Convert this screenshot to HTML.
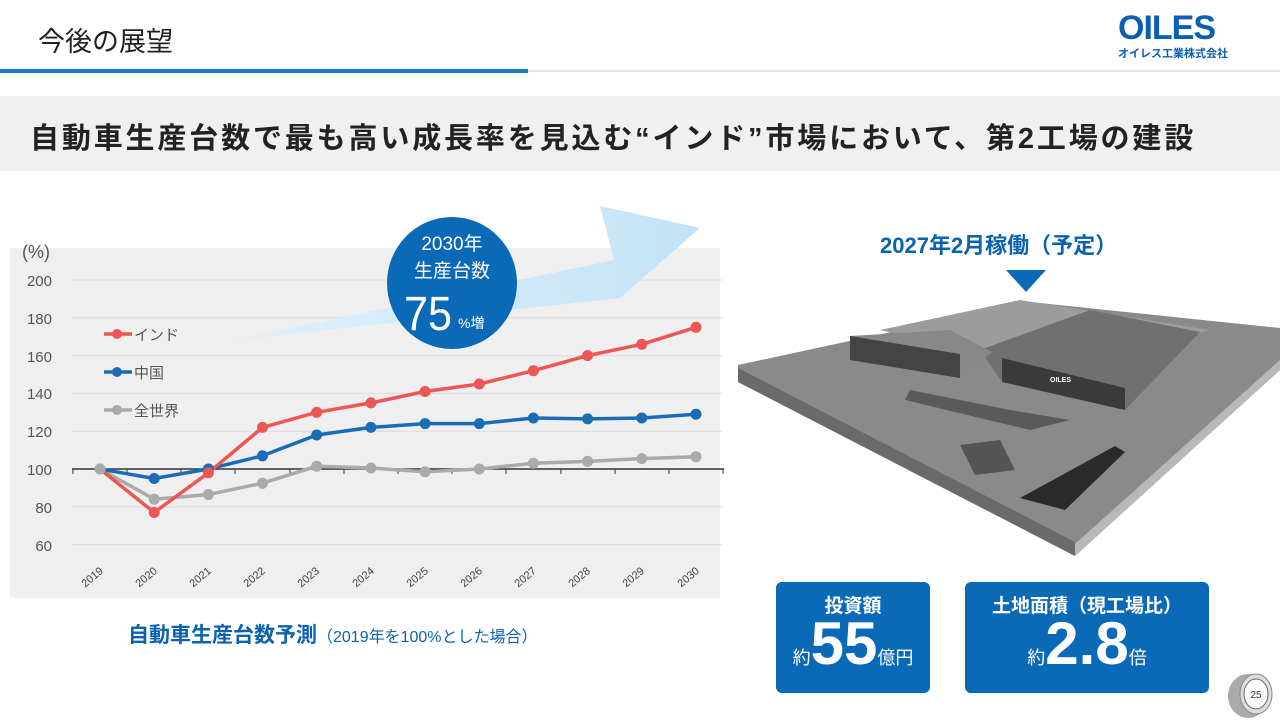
<!DOCTYPE html>
<html><head><meta charset="utf-8"><style>
body{margin:0;width:1280px;height:720px;overflow:hidden;background:#fff;font-family:"Liberation Sans","Noto Sans CJK JP",sans-serif;position:relative}
.a{position:absolute}
</style></head><body>
<div class="a" style="left:38px;top:20px;font-size:27px;color:#222">今後の展望</div>
<div class="a" style="left:0;top:69px;width:528px;height:4px;background:#1f78c1"></div>
<div class="a" style="left:528px;top:70px;width:752px;height:2px;background:#e6e6e6"></div>
<div class="a" style="left:1118px;top:10px;font-size:34px;font-weight:bold;color:#0a5fb0;letter-spacing:-1px;line-height:36px">OILES</div>
<div class="a" style="left:1118px;top:45px;font-size:11px;font-weight:bold;color:#0a5fb0">オイレス工業株式会社</div>
<div class="a" style="left:0;top:96px;width:1280px;height:75px;background:#f0f0f0"></div>
<div class="a" style="left:30px;top:115px;font-size:29px;color:#222;font-weight:bold;letter-spacing:2.85px;white-space:nowrap">自動車生産台数で最も高い成長率を見込む“インド”市場において、第2工場の建設</div>
<svg class="a" style="left:0;top:0" width="730" height="600">
<rect x="10" y="248" width="710" height="350" fill="#efefef"/>
<g stroke="#dcdcdc" stroke-width="1">
<line x1="72" x2="722" y1="280" y2="280"/><line x1="72" x2="722" y1="317.8" y2="317.8"/><line x1="72" x2="722" y1="355.6" y2="355.6"/><line x1="72" x2="722" y1="393.4" y2="393.4"/><line x1="72" x2="722" y1="431.2" y2="431.2"/><line x1="72" x2="722" y1="506.8" y2="506.8"/><line x1="72" x2="722" y1="544.6" y2="544.6"/></g>
<line x1="72" x2="724" y1="469" y2="469" stroke="#333" stroke-width="1.5"/>
<g stroke="#333"><line x1="73" x2="73" y1="469" y2="474"/><line x1="127" x2="127" y1="469" y2="474"/><line x1="181" x2="181" y1="469" y2="474"/><line x1="235" x2="235" y1="469" y2="474"/><line x1="290" x2="290" y1="469" y2="474"/><line x1="344" x2="344" y1="469" y2="474"/><line x1="398" x2="398" y1="469" y2="474"/><line x1="452" x2="452" y1="469" y2="474"/><line x1="506" x2="506" y1="469" y2="474"/><line x1="561" x2="561" y1="469" y2="474"/><line x1="615" x2="615" y1="469" y2="474"/><line x1="669" x2="669" y1="469" y2="474"/><line x1="723" x2="723" y1="469" y2="474"/></g>
<g font-size="15" fill="#555" text-anchor="end"><text x="52" y="286">200</text><text x="52" y="324">180</text><text x="52" y="362">160</text><text x="52" y="399">140</text><text x="52" y="437">120</text><text x="52" y="475">100</text><text x="52" y="513">80</text><text x="52" y="551">60</text></g>
<text x="22" y="258" font-size="18" fill="#555">(%)</text>
<g font-size="11" fill="#444" text-anchor="end">
<text transform="translate(104,572) rotate(-40)">2019</text><text transform="translate(158,572) rotate(-40)">2020</text><text transform="translate(212,572) rotate(-40)">2021</text><text transform="translate(266,572) rotate(-40)">2022</text><text transform="translate(320,572) rotate(-40)">2023</text><text transform="translate(375,572) rotate(-40)">2024</text><text transform="translate(429,572) rotate(-40)">2025</text><text transform="translate(483,572) rotate(-40)">2026</text><text transform="translate(537,572) rotate(-40)">2027</text><text transform="translate(591,572) rotate(-40)">2028</text><text transform="translate(645,572) rotate(-40)">2029</text><text transform="translate(700,572) rotate(-40)">2030</text></g>
<defs><linearGradient id="g" x1="0" x2="1"><stop offset="0" stop-color="#e0f0fb"/><stop offset="1" stop-color="#c4e3f8"/></linearGradient></defs>
<polygon points="235,340 614,260 600,206 700,228 620,298" fill="url(#g)"/>
<g fill="none" stroke-width="3.5" stroke-linejoin="round">
<polyline stroke="#aaaaaa" points="100,469 154.2,499.2 208.4,494.5 262.5,483.2 316.7,466.2 370.9,468 425.1,471.8 479.3,469 533.4,463.3 587.6,461.4 641.8,458.6 696,456.7"/>
<polyline stroke="#1a6db5" points="100,469 154.2,478.5 208.4,469 262.5,455.8 316.7,435 370.9,427.4 425.1,423.6 479.3,423.6 533.4,418 587.6,418.9 641.8,418 696,414.2"/>
<polyline stroke="#ee5555" points="100,469 154.2,512.5 208.4,472.8 262.5,427.4 316.7,412.3 370.9,402.9 425.1,391.5 479.3,384 533.4,370.7 587.6,355.6 641.8,344.3 696,327.3"/></g>
<g fill="#aaaaaa"><circle cx="100" cy="469" r="5.5"/><circle cx="154.2" cy="499.2" r="5.5"/><circle cx="208.4" cy="494.5" r="5.5"/><circle cx="262.5" cy="483.2" r="5.5"/><circle cx="316.7" cy="466.2" r="5.5"/><circle cx="370.9" cy="468" r="5.5"/><circle cx="425.1" cy="471.8" r="5.5"/><circle cx="479.3" cy="469" r="5.5"/><circle cx="533.4" cy="463.3" r="5.5"/><circle cx="587.6" cy="461.4" r="5.5"/><circle cx="641.8" cy="458.6" r="5.5"/><circle cx="696" cy="456.7" r="5.5"/></g>
<g fill="#1a6db5"><circle cx="154.2" cy="478.5" r="5.5"/><circle cx="208.4" cy="469" r="5.5"/><circle cx="262.5" cy="455.8" r="5.5"/><circle cx="316.7" cy="435" r="5.5"/><circle cx="370.9" cy="427.4" r="5.5"/><circle cx="425.1" cy="423.6" r="5.5"/><circle cx="479.3" cy="423.6" r="5.5"/><circle cx="533.4" cy="418" r="5.5"/><circle cx="587.6" cy="418.9" r="5.5"/><circle cx="641.8" cy="418" r="5.5"/><circle cx="696" cy="414.2" r="5.5"/></g>
<g fill="#ee5555"><circle cx="154.2" cy="512.5" r="5.5"/><circle cx="208.4" cy="472.8" r="5.5"/><circle cx="262.5" cy="427.4" r="5.5"/><circle cx="316.7" cy="412.3" r="5.5"/><circle cx="370.9" cy="402.9" r="5.5"/><circle cx="425.1" cy="391.5" r="5.5"/><circle cx="479.3" cy="384" r="5.5"/><circle cx="533.4" cy="370.7" r="5.5"/><circle cx="587.6" cy="355.6" r="5.5"/><circle cx="641.8" cy="344.3" r="5.5"/><circle cx="696" cy="327.3" r="5.5"/></g>
<circle cx="100" cy="469" r="5.5" fill="#aaaaaa"/>
<g stroke-width="3.5"><line x1="104" x2="132" y1="334" y2="334" stroke="#ee5555"/><line x1="104" x2="132" y1="372" y2="372" stroke="#1a6db5"/><line x1="104" x2="132" y1="410" y2="410" stroke="#aaaaaa"/></g>
<circle cx="117" cy="334" r="5" fill="#ee5555"/><circle cx="117" cy="372" r="5" fill="#1a6db5"/><circle cx="117" cy="410" r="5" fill="#aaaaaa"/>
<g font-size="15" fill="#555"><text x="134" y="340">インド</text><text x="134" y="378">中国</text><text x="134" y="416">全世界</text></g>
<ellipse cx="452" cy="283" rx="65" ry="66" fill="#0a6ab8"/>
<g fill="#fff" text-anchor="middle"><text x="452" y="250" font-size="19">2030年</text><text x="452" y="277" font-size="19">生産台数</text></g>
<text x="404" y="330" font-size="48" fill="#fff" transform="translate(404,330) scale(0.9,1) translate(-404,-330)">75</text><text x="458" y="328" font-size="14" fill="#fff">%増</text>
</svg>
<div class="a" style="left:128px;top:619px;font-size:21px;color:#0a62b0;font-weight:bold;white-space:nowrap">自動車生産台数予測<span style="font-size:16px;font-weight:normal;color:#0a62b0">（2019年を100%とした場合）</span></div>
<div class="a" style="left:880px;top:228px;font-size:22px;color:#0a62b0;font-weight:bold">2027年2月稼働（予定）</div>
<svg class="a" style="left:730px;top:260px" width="550" height="300">
<polygon points="276,10 316,10 296,32" fill="#0a6ab8"/>
<polygon points="8,105 300,42 550,68 550,110 345,296 8,122" fill="#8a8a8a"/>
<polygon points="8,122 345,296 345,282 8,108" fill="#6a6a6a"/>
<polygon points="345,296 550,110 550,100 345,284" fill="#b8b8b8"/>
<polygon points="150,70 290,40 480,70 330,110" fill="#9c9c9c"/>
<polygon points="250,90 360,50 470,72 395,150 272,122" fill="#707070"/>
<polygon points="272,98 395,128 395,150 272,122" fill="#3a3a3a"/>
<polygon points="120,76 220,70 262,92 230,118 120,100" fill="#888"/>
<polygon points="120,76 230,94 230,118 120,100" fill="#444"/>
<polygon points="180,130 280,150 340,160 300,170 175,140" fill="#5a5a5a"/>
<polygon points="290,238 385,186 395,192 335,250" fill="#2a2a2a"/>
<polygon points="230,185 270,180 285,210 245,215" fill="#555"/>
<text x="320" y="122" font-size="7" fill="#fff" font-weight="bold">OILES</text>
</svg>
<div class="a" style="left:776px;top:582px;width:154px;height:111px;background:#0a6ab8;border-radius:6px;color:#fff;text-align:center">
<div style="font-size:19px;font-weight:bold;margin-top:9px">投資額</div>
<div style="margin-top:-4px;white-space:nowrap"><span style="font-size:18px">約</span><span style="font-size:60px;font-weight:bold;line-height:60px">55</span><span style="font-size:18px">億円</span></div></div>
<div class="a" style="left:965px;top:582px;width:244px;height:111px;background:#0a6ab8;border-radius:6px;color:#fff;text-align:center">
<div style="font-size:19px;font-weight:bold;margin-top:9px">土地面積（現工場比）</div>
<div style="margin-top:-4px;white-space:nowrap"><span style="font-size:18px">約</span><span style="font-size:60px;font-weight:bold;line-height:60px">2.8</span><span style="font-size:18px">倍</span></div></div>
<svg class="a" style="left:1224px;top:670px" width="56" height="50"><ellipse cx="24" cy="26" rx="20" ry="22" fill="#aaa"/><ellipse cx="32" cy="24" rx="16" ry="20" fill="#ddd" stroke="#888"/><ellipse cx="32" cy="24" rx="12" ry="15" fill="#fff" stroke="#666"/><text x="32" y="28" font-size="10" text-anchor="middle" fill="#333">25</text></svg>
</body></html>
